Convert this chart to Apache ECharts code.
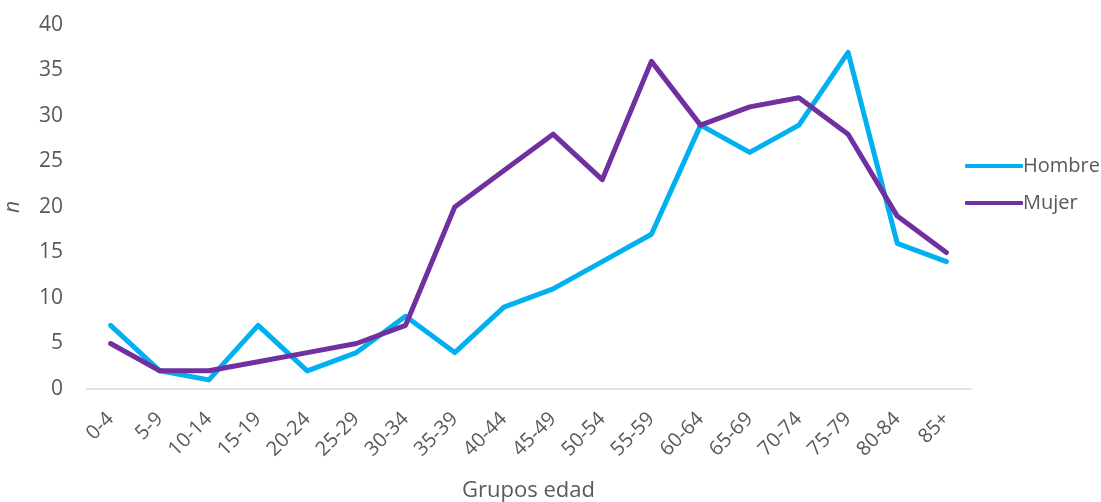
<!DOCTYPE html>
<html><head><meta charset="utf-8">
<script src="https://cdn.jsdelivr.net/npm/echarts@6/dist/echarts.min.js"></script>
<style>html,body{margin:0;padding:0;background:#fff}#c{width:1101px;height:502px}</style>
</head><body><div id="c"></div>
<script>
const categories = ['0-4','5-9','10-14','15-19','20-24','25-29','30-34','35-39','40-44','45-49','50-54','55-59','60-64','65-69','70-74','75-79','80-84','85+'];
const hombre = [7,2,1,7,2,4,8,4,9,11,14,17,29,26,29,37,16,14];
const mujer = [5,2,2,3,4,5,7,20,24,28,23,36,29,31,32,28,19,15];
const yTicks = [0,5,10,15,20,25,30,35,40];

const chart = echarts.init(document.getElementById('c'));
const font = '"Open Sans", sans-serif';
chart.setOption({
  animation: false,
  textStyle: {fontFamily: font},
  grid: {left: 86, right: 130, top: 25, bottom: 113, containLabel: false, outerBoundsMode: 'none'},
  legend: {
    orient: 'vertical', left: 960, top: 151, itemGap: 17,
    itemWidth: 58, itemHeight: 4,
    icon: 'roundRect',
    textStyle: {color: '#595959', fontSize: 20, fontFamily: font, padding: [0,0,0,-5]},
    data: ['Hombre','Mujer']
  },
  xAxis: {
    type: 'category', data: categories, boundaryGap: true,
    name: 'Grupos edad', nameLocation: 'middle', nameGap: 91,
    nameTextStyle: {color: '#595959', fontSize: 22, fontFamily: font},
    axisLine: {lineStyle: {color: '#D9D9D9', width: 1.5}},
    axisTick: {show: false},
    axisLabel: {color: '#595959', fontSize: 20, rotate: 45, interval: 0, margin: 27, fontFamily: font}
  },
  yAxis: {
    type: 'value', min: 0, max: 40, interval: 5,
    name: 'n', nameLocation: 'middle', nameGap: 62,
    nameTextStyle: {color: '#595959', fontSize: 21, fontStyle: 'italic', fontFamily: font},
    axisLine: {show: false}, axisTick: {show: false},
    splitLine: {show: false},
    axisLabel: {color: '#595959', fontSize: 21, margin: 23, fontFamily: font,
      formatter: v => yTicks.includes(v) ? String(v) : ''}
  },
  series: [
    {name: 'Hombre', type: 'line', data: hombre, symbol: 'none',
     lineStyle: {color: '#00B0F0', width: 5, cap: 'round', join: 'round'}, itemStyle: {color: '#00B0F0'}},
    {name: 'Mujer', type: 'line', data: mujer, symbol: 'none',
     lineStyle: {color: '#7030A0', width: 5, cap: 'round', join: 'round'}, itemStyle: {color: '#7030A0'}}
  ]
});
</script></body></html>
